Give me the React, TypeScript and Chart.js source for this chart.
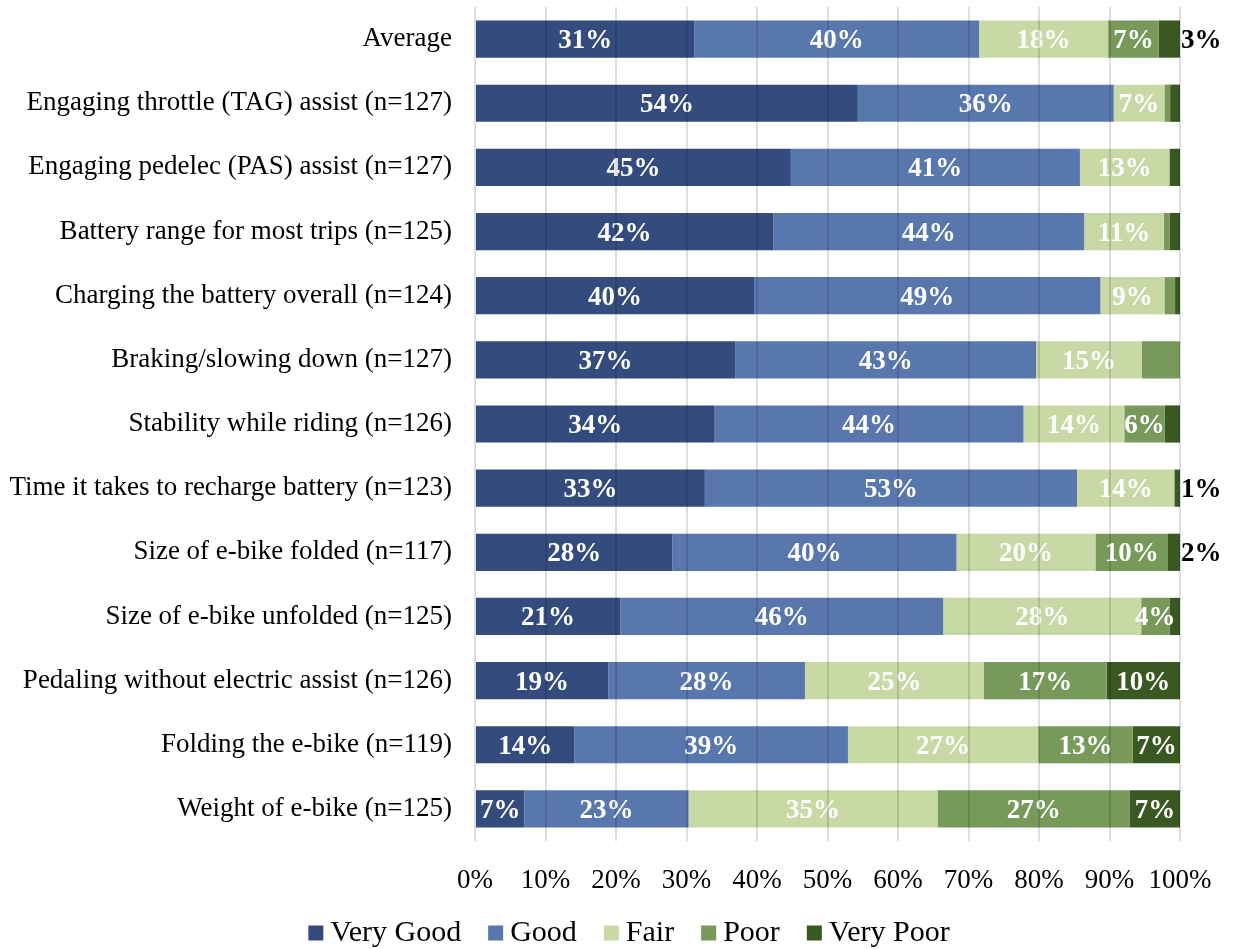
import { useEffect, useRef } from "react";
import { Chart, registerables } from "chart.js";

Chart.register(...registerables);

const categories = [
  "Average",
  "Engaging throttle (TAG) assist (n=127)",
  "Engaging pedelec (PAS) assist (n=127)",
  "Battery range for most trips (n=125)",
  "Charging the battery overall (n=124)",
  "Braking/slowing down (n=127)",
  "Stability while riding (n=126)",
  "Time it takes to recharge battery (n=123)",
  "Size of e-bike folded (n=117)",
  "Size of e-bike unfolded (n=125)",
  "Pedaling without electric assist (n=126)",
  "Folding the e-bike (n=119)",
  "Weight of e-bike (n=125)",
];

const seriesNames = ["Very Good", "Good", "Fair", "Poor", "Very Poor"];
const seriesColors = ["#334B7D", "#5877AC", "#C8D9A6", "#77995A", "#3A5822"];

const veryGood = [31.1, 54.3, 44.8, 42.3, 39.6, 36.9, 34.0, 32.6, 28.0, 20.6, 18.9, 14.1, 7.0];
const good = [40.4, 36.3, 41.0, 44.1, 49.1, 42.7, 43.8, 52.8, 40.3, 45.8, 27.9, 38.8, 23.3];
const fair = [18.3, 7.2, 12.7, 11.3, 9.1, 15.0, 14.3, 13.8, 19.7, 28.1, 25.4, 27.0, 35.3];
const poor = [7.2, 0.8, 0.0, 0.8, 1.5, 5.4, 5.7, 0.0, 10.3, 4.0, 17.4, 13.4, 27.3];
const veryPoor = [3.0, 1.4, 1.5, 1.5, 0.7, 0.0, 2.2, 0.8, 1.7, 1.5, 10.4, 6.7, 7.1];

// label display mode per bar segment: "in" (white, centred), "out" (black, right of bar), "" (hidden)
const allIn = categories.map(() => "in");
const veryGoodShow = allIn;
const goodShow = allIn;
const fairShow = allIn;
const poorShow = ["in", "", "", "", "", "", "in", "", "in", "in", "in", "in", "in"];
const veryPoorShow = ["out", "", "", "", "", "", "", "out", "out", "", "in", "in", "in"];

const xTicks = [0, 10, 20, 30, 40, 50, 60, 70, 80, 90, 100];

const FONT = '"Liberation Serif", "Times New Roman", serif';

export default function App() {
  const ref = useRef<HTMLCanvasElement>(null);

  useEffect(() => {
    document.body.style.margin = "0";
    const values = [veryGood, good, fair, poor, veryPoor];
    const shows = [veryGoodShow, goodShow, fairShow, poorShow, veryPoorShow];

    const labelPlugin = {
      id: "segLabels",
      afterDatasetsDraw(chart: any) {
        const ctx = chart.ctx;
        ctx.save();
        ctx.font = `bold 27px ${FONT}`;
        ctx.textBaseline = "middle";
        chart.data.datasets.forEach((ds: any, di: number) => {
          const meta = chart.getDatasetMeta(di);
          meta.data.forEach((bar: any, i: number) => {
            const mode = shows[di][i];
            if (!mode) return;
            const v = values[di][i];
            const txt = Math.round(v) + "%";
            if (mode === "in") {
              ctx.fillStyle = "#ffffff";
              ctx.textAlign = "center";
              ctx.fillText(txt, (bar.x + bar.base) / 2, bar.y + 2);
            } else {
              ctx.fillStyle = "#000000";
              ctx.textAlign = "left";
              ctx.fillText(txt, chart.chartArea.right + 1, bar.y + 2);
            }
          });
        });
        ctx.restore();
      },
    };

    const legendPlugin = {
      id: "customLegend",
      afterDraw(chart: any) {
        const ctx = chart.ctx;
        ctx.save();
        ctx.font = `30px ${FONT}`;
        ctx.textBaseline = "middle";
        ctx.textAlign = "left";
        const box = 15;
        const gapBoxText = 7;
        const gapItems = 27;
        const widths = seriesNames.map((n) => box + gapBoxText + ctx.measureText(n).width);
        const total = widths.reduce((a, b) => a + b, 0) + gapItems * (seriesNames.length - 1);
        let x = 629 - total / 2;
        const y = 933;
        seriesNames.forEach((n, i) => {
          ctx.fillStyle = seriesColors[i];
          ctx.fillRect(x, y - box / 2, box, box);
          ctx.fillStyle = "#000000";
          ctx.fillText(n, x + box + gapBoxText, y);
          x += widths[i] + gapItems;
        });
        ctx.restore();
      },
    };

    const chart = new Chart(ref.current!, {
      type: "bar",
      data: {
        labels: categories,
        datasets: values.map((arr, i) => ({
          label: seriesNames[i],
          data: arr,
          backgroundColor: seriesColors[i],
          borderWidth: 0,
          barPercentage: 0.58,
          categoryPercentage: 1,
        })),
      },
      options: {
        indexAxis: "y",
        responsive: false,
        animation: false,
        devicePixelRatio: 1,
        layout: { padding: { left: 0, right: 53, top: 7, bottom: 48 } },
        plugins: {
          legend: { display: false },
          tooltip: { enabled: false },
        },
        scales: {
          x: {
            stacked: true,
            min: 0,
            max: 100,
            afterBuildTicks(scale: any) {
              scale.ticks = xTicks.map((v) => ({ value: v }));
            },
            afterFit(scale: any) {
              scale.height = 60;
              scale.paddingLeft = 0;
              scale.paddingRight = 0;
            },
            ticks: {
              callback: (v: any) => v + "%",
              color: "#000000",
              font: { family: FONT, size: 27 },
              padding: 24,
              maxRotation: 0,
              autoSkip: false,
            },
            grid: {
              color: "rgba(0,0,0,0.13)",
              lineWidth: 2,
              drawTicks: false,
              z: 1,
            },
            border: { display: false },
          },
          y: {
            stacked: true,
            afterFit(scale: any) {
              scale.width = 475;
              scale.paddingTop = 0;
              scale.paddingBottom = 0;
            },
            ticks: {
              color: "#000000",
              font: { family: FONT, size: 27 },
              padding: 23,
              autoSkip: false,
            },
            grid: { display: false, drawTicks: false },
            border: { display: false },
          },
        },
      },
      plugins: [labelPlugin, legendPlugin],
    } as any);
    return () => chart.destroy();
  }, []);

  return (
    <div style={{ position: "absolute", left: 0, top: 0, width: 1233, height: 949, background: "#fff" }}>
      <canvas ref={ref} width={1233} height={949} style={{ display: "block" }} />
    </div>
  );
}
